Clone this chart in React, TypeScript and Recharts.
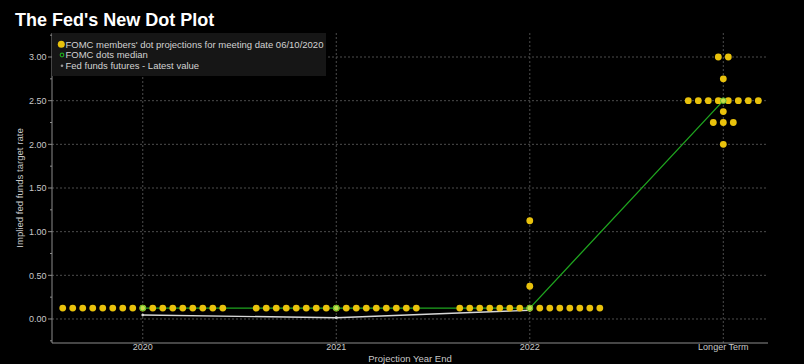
import React from 'react';
import { ComposedChart, Scatter, XAxis, YAxis, CartesianGrid, Legend, Label } from 'recharts';

// ---- data ----
const projectionYears = [2020, 2021, 2022, 2023];
const xTickLabels = ['2020', '2021', '2022', 'Longer Term'];
const yTicks = [-0.25, 0, 0.25, 0.5, 0.75, 1, 1.25, 1.5, 1.75, 2, 2.25, 2.5, 2.75, 3, 3.25];
const yGridValues = [0, 0.5, 1, 1.5, 2, 2.5, 3];

const dots2020 = [{ rate: 0.125, count: 17 }];
const dots2021 = [{ rate: 0.125, count: 17 }];
const dots2022 = [
  { rate: 0.125, count: 15 },
  { rate: 0.375, count: 1 },
  { rate: 1.125, count: 1 },
];
const dotsLonger = [
  { rate: 2.0, count: 1 },
  { rate: 2.25, count: 3 },
  { rate: 2.375, count: 1 },
  { rate: 2.5, count: 8 },
  { rate: 2.75, count: 1 },
  { rate: 3.0, count: 2 },
];
const medianRates = [0.125, 0.125, 0.125, 2.5];
const futuresRates = [0.045, 0.015, 0.1];

const legendLabels = [
  "FOMC members' dot projections for meeting date 06/10/2020",
  'FOMC dots median',
  'Fed funds futures - Latest value',
];

// ---- layout helpers ----
const DOT_STEP = 0.0517; // horizontal spacing of dots in a row (year units)
const yearDots = [dots2020, dots2021, dots2022, dotsLonger];

const dotPoints: { x: number; y: number }[] = [];
yearDots.forEach((groups, yi) => {
  groups.forEach((g) => {
    for (let i = 0; i < g.count; i++) {
      dotPoints.push({ x: projectionYears[yi] + (i - (g.count - 1) / 2) * DOT_STEP, y: g.rate });
    }
  });
});
const medianPoints = medianRates.map((r, i) => ({ x: projectionYears[i], y: r }));
const futuresPoints = futuresRates.map((r, i) => ({ x: projectionYears[i], y: r }));

const YELLOW = '#e9c20c';
const GREEN = '#1fa51f';
const AXIS = '#8c8c8c';
const TEXT = '#c8c8c8';
const FONT = '"Liberation Sans", Arial, sans-serif';

const YTick = (props: any) => {
  const { x, y, payload } = props;
  const v = payload.value as number;
  const major = yGridValues.includes(v);
  return (
    <g>
      <line x1={x - (major ? 4 : 2)} x2={x} y1={y} y2={y} stroke={AXIS} strokeWidth={1} />
      {major && (
        <text x={x - 5.5} y={y} dy={3.2} textAnchor="end" fill={TEXT} fontSize={9} fontFamily={FONT}>
          {v.toFixed(2)}
        </text>
      )}
    </g>
  );
};

const LegendBox = () => (
  <svg width={274} height={43} style={{ display: 'block' }}>
    <rect x={0} y={0} width={274} height={43} fill="#161616" />
    <circle cx={9.3} cy={11.3} r={3.5} fill={YELLOW} />
    <circle cx={10} cy={22} r={1.8} fill="none" stroke={GREEN} strokeWidth={1.2} />
    <circle cx={10} cy={32.7} r={1.3} fill="#9a9a9a" />
    {legendLabels.map((t, i) => (
      <text key={i} x={13.5} y={11.3 + i * 10.7} dy={3.3} fill="#d2d2d2" fontSize={9.5} fontFamily={FONT}>
        {t}
      </text>
    ))}
  </svg>
);

export default function App() {
  return (
    <div
      style={{
        position: 'absolute',
        left: 0,
        top: 0,
        width: 804,
        height: 364,
        background: '#000',
        fontFamily: FONT,
        overflow: 'hidden',
      }}
    >
      <div
        style={{
          position: 'absolute',
          left: 15,
          top: 11,
          fontSize: 18,
          lineHeight: '18px',
          fontWeight: 'bold',
          color: '#fff',
          fontFamily: FONT,
          zIndex: 2,
          whiteSpace: 'nowrap',
        }}
      >
        The Fed's New Dot Plot
      </div>
      <ComposedChart width={804} height={364} margin={{ top: 33, right: 36, bottom: 0, left: 0 }}>
        <CartesianGrid
          stroke="#4c4c4c"
          strokeDasharray="2 2"
          horizontalValues={yGridValues}
          verticalValues={projectionYears}
        />
        <XAxis
          type="number"
          dataKey="x"
          domain={[2019.531, 2023.231]}
          ticks={projectionYears}
          interval={0}
          allowDataOverflow
          height={21}
          stroke={AXIS}
          tickSize={0}
          tickMargin={1}
          tick={{ fill: TEXT, fontSize: 9, fontFamily: FONT }}
          tickFormatter={(v: number) => xTickLabels[projectionYears.indexOf(v)]}
        >
          <Label value="Projection Year End" position="insideBottom" offset={2} fill={TEXT} fontSize={9.5} fontFamily={FONT} />
        </XAxis>
        <YAxis
          type="number"
          dataKey="y"
          domain={[-0.275, 3.275]}
          ticks={yTicks}
          interval={0}
          allowDataOverflow
          width={52}
          stroke={AXIS}
          tickSize={0}
          tickMargin={0}
          tick={<YTick />}
        >
          <Label
            value="Implied fed funds target rate"
            angle={-90}
            position="center"
            dx={-6}
            fill={TEXT}
            fontSize={9.6}
            fontFamily={FONT}
          />
        </YAxis>
        <Legend
          layout="horizontal"
          verticalAlign="middle"
          align="center"
          wrapperStyle={{ left: 52, top: 33, width: 274, height: 43 }}
          content={() => <LegendBox />}
        />
        <Scatter
          name="futures"
          data={futuresPoints}
          line={{ stroke: '#d8d8d8', strokeWidth: 1.4 }}
          shape={(p: any) => <circle cx={p.cx} cy={p.cy} r={1.4} fill="#d8d8d8" />}
          isAnimationActive={false}
        />
        <Scatter
          name="medianLine"
          data={medianPoints}
          line={{ stroke: GREEN, strokeWidth: 1.3 }}
          shape={() => <g />}
          isAnimationActive={false}
        />
        <Scatter
          name="dots"
          data={dotPoints}
          shape={(p: any) => <circle cx={p.cx} cy={p.cy} r={3.4} fill={YELLOW} />}
          isAnimationActive={false}
        />
        <Scatter
          name="median"
          data={medianPoints}
          shape={(p: any) => (
            <circle cx={p.cx} cy={p.cy} r={2.8} fill="#c6dc4a" stroke="#5cbf34" strokeWidth={1} />
          )}
          isAnimationActive={false}
        />
      </ComposedChart>
    </div>
  );
}
